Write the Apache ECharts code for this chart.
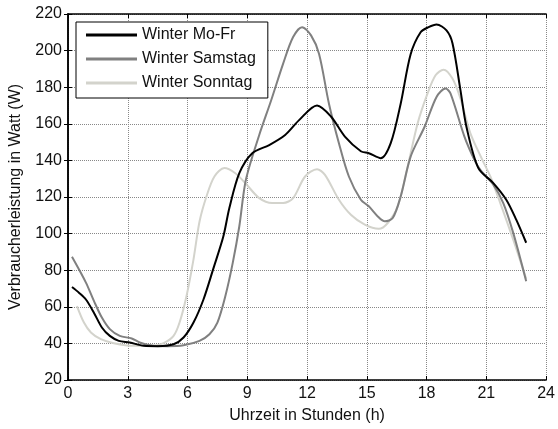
<!DOCTYPE html>
<html>
<head>
<meta charset="utf-8">
<script src="https://cdn.jsdelivr.net/npm/echarts@6/dist/echarts.min.js"></script>
<style>
  html, body { margin: 0; padding: 0; background: #fff; }
  #chart { width: 558px; height: 429px; }
</style>
</head>
<body>
<div id="chart"></div>
<script>
// Hourly load profiles (winter), hour of day -> consumer power in W
const seriesNames = ['Winter Mo-Fr', 'Winter Samstag', 'Winter Sonntag'];

const hoursMoFr = [0.2, 0.55, 0.9, 1.3, 1.7, 2.1, 2.55, 3.1, 3.8, 4.5, 5.3, 5.8, 6.3, 6.8, 7.3, 7.8, 8.1, 8.6, 9.25, 10.1, 10.9, 11.6, 12.5, 13.2, 13.9, 14.7, 15.1, 15.7, 16.2, 16.7, 17.2, 17.7, 18.1, 18.5, 19.0, 19.3, 19.7, 20.0, 20.6, 21.35, 22.0, 22.5, 23.0];
const valuesMoFr = [70.8, 67.7, 64, 56.8, 48.7, 44.1, 41.4, 40.5, 38.7, 38.5, 39.5, 43.2, 51.4, 64, 81, 98.5, 114, 133, 143.9, 148.4, 153.9, 162, 170, 164, 153, 145, 143.9, 141.2, 149.4, 171, 198, 210, 212.8, 214.3, 211, 204, 178.4, 158.4, 135.8, 127.6, 118.5, 107.6, 95];

const hoursSamstag = [0.2, 0.9, 1.3, 1.7, 2.1, 2.6, 3.2, 3.6, 4.3, 5.0, 5.8, 6.6, 7.1, 7.5, 7.9, 8.27, 8.6, 8.93, 9.6, 10.2, 10.8, 11.3, 11.75, 12.2, 12.6, 13.1, 13.6, 14.1, 14.7, 15.1, 15.55, 15.9, 16.3, 16.7, 17.2, 17.9, 18.5, 18.95, 19.2, 19.9, 20.4, 20.7, 21.35, 21.85, 22.35, 23.0];
const valuesSamstag = [87.3, 73.2, 63.2, 54.1, 47.8, 44.1, 42.7, 40.5, 38.7, 38.5, 39, 41.4, 45, 51.4, 65.9, 84, 104, 129.4, 153.9, 172.9, 192.9, 207.4, 212.8, 208.3, 198.3, 171, 149.4, 131.2, 118.5, 114.9, 109.4, 106.7, 108.5, 120.3, 142.1, 158.4, 174.7, 179.3, 176.6, 153, 140.3, 134.8, 126.7, 116.7, 100.4, 74];

const hoursSonntag = [0.45, 0.8, 1.15, 1.65, 2.3, 3.3, 4.3, 4.8, 5.3, 5.6, 5.95, 6.3, 6.6, 6.95, 7.35, 7.85, 8.4, 8.9, 9.6, 10.25, 10.8, 11.3, 11.9, 12.5, 12.9, 13.6, 14.2, 14.9, 15.6, 16.05, 16.55, 17.05, 17.55, 18.05, 18.45, 18.85, 19.3, 19.7, 20.2, 20.8, 21.2, 21.7, 22.35, 23.0];
const valuesSonntag = [60.4, 51.4, 46, 42.3, 40.1, 38.7, 38.7, 40.1, 44.1, 51.4, 65.9, 85.9, 106.5, 120.3, 131.2, 135.8, 133, 127.6, 119.4, 116.7, 116.7, 119.4, 131.2, 135.2, 132.1, 118.5, 110.3, 104.9, 102.6, 105.8, 114.9, 136.6, 160.2, 176.6, 186.5, 189.6, 184.7, 173.8, 154.8, 140.3, 131.2, 116.7, 96.7, 75.3];

const xTicks = [0, 3, 6, 9, 12, 15, 18, 21, 24];
const yTicks = [20, 40, 60, 80, 100, 120, 140, 160, 180, 200, 220];

const lineColors = ['#000000', '#808080', '#d3d3cc'];

const pairs = (xs, ys) => xs.map((x, i) => [x, ys[i]]);
const seriesData = [
  pairs(hoursMoFr, valuesMoFr),
  pairs(hoursSamstag, valuesSamstag),
  pairs(hoursSonntag, valuesSonntag)
];

const font = 'Liberation Sans, Arial, sans-serif';
const textColor = '#111';

const boxAxis = {
  axisLine: { show: true, lineStyle: { color: '#000', width: 1.5 } },
  axisTick: { show: true, inside: true, length: 4, lineStyle: { color: '#000', width: 1 } }
};

const chart = echarts.init(document.getElementById('chart'), null, { renderer: 'canvas' });

chart.setOption({
  backgroundColor: '#ffffff',
  animation: false,
  grid: { left: 67, right: 8, top: 14, bottom: 48 },
  legend: {
    left: 76,
    top: 22,
    orient: 'vertical',
    data: seriesNames,
    icon: 'rect',
    backgroundColor: '#ffffff',
    borderColor: '#000',
    borderWidth: 1,
    borderRadius: 0,
    padding: [5, 12, 7, 10],
    itemWidth: 51,
    itemHeight: 3,
    itemGap: 8,
    textStyle: { fontFamily: font, fontSize: 16, color: textColor, lineHeight: 16, padding: [0, 0, 0, 0] }
  },
  xAxis: [
    {
      type: 'value',
      min: xTicks[0],
      max: xTicks[xTicks.length - 1],
      interval: 3,
      name: 'Uhrzeit in Stunden (h)',
      nameLocation: 'middle',
      nameGap: 28,
      nameTextStyle: { fontFamily: font, fontSize: 16, color: textColor },
      axisLabel: { fontFamily: font, fontSize: 16, color: textColor, margin: 6 },
      splitLine: { show: true, lineStyle: { color: '#888', type: 'dotted', width: 1 } },
      ...boxAxis
    },
    {
      type: 'value',
      position: 'top',
      min: xTicks[0],
      max: xTicks[xTicks.length - 1],
      interval: 3,
      axisLabel: { show: false },
      splitLine: { show: false },
      ...boxAxis
    }
  ],
  yAxis: [
    {
      type: 'value',
      min: yTicks[0],
      max: yTicks[yTicks.length - 1],
      interval: 20,
      name: 'Verbraucherleistung in Watt (W)',
      nameLocation: 'middle',
      nameGap: 44,
      nameTextStyle: { fontFamily: font, fontSize: 16, color: textColor },
      axisLabel: { fontFamily: font, fontSize: 16, color: textColor, margin: 6 },
      splitLine: { show: true, lineStyle: { color: '#888', type: 'dotted', width: 1 } },
      ...boxAxis
    },
    {
      type: 'value',
      position: 'right',
      min: yTicks[0],
      max: yTicks[yTicks.length - 1],
      interval: 20,
      axisLabel: { show: false },
      splitLine: { show: false },
      ...boxAxis
    }
  ],
  series: seriesNames.map((name, i) => ({
    name,
    type: 'line',
    data: seriesData[i],
    xAxisIndex: 0,
    yAxisIndex: 0,
    symbol: 'none',
    smooth: 0.3,
    color: lineColors[i],
    lineStyle: { color: lineColors[i], width: 2 },
    z: 10 - i
  }))
});
</script>
</body>
</html>
